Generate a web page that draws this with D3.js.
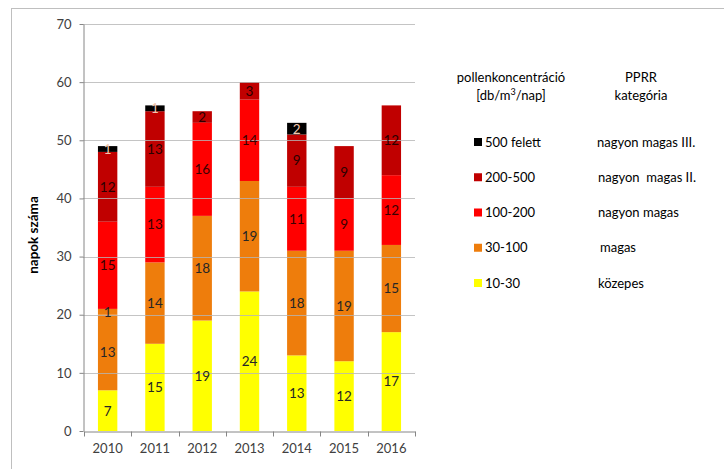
<!DOCTYPE html>
<html>
<head>
<meta charset="utf-8">
<script src="https://cdn.jsdelivr.net/npm/d3@7"></script>
<style>
  body { margin: 0; background: #fff; }
  svg { font-family: Lato, "Open Sans", sans-serif; }
</style>
</head>
<body>
<div id="chart"></div>
<script>
var years = ["2010", "2011", "2012", "2013", "2014", "2015", "2016"];
var s10_30 = [7, 15, 19, 24, 13, 12, 17];
var s30_100 = [13, 14, 18, 19, 18, 19, 15];
var s30_100b = [1, 0, 0, 0, 0, 0, 0];   // extra orange piece on 2010
var s100_200 = [15, 13, 16, 14, 11, 9, 12];
var s200_500 = [12, 13, 2, 3, 9, 9, 12];
var s500 = [1, 1, 0, 0, 2, 0, 0];
var yTicks = [0, 10, 20, 30, 40, 50, 60, 70];

var legendNames = ["500 felett", "200-500", "100-200", "30-100", "10-30"];
var legendCats = ["nagyon magas III.", "nagyon  magas II.", "nagyon magas", "magas", "közepes"];

var series = [
  {values: s10_30, color: "#FFFF00", text: "#262626"},
  {values: s30_100, color: "#EE7D0C", text: "#262626"},
  {values: s30_100b, color: "#EE7D0C", text: "#262626"},
  {values: s100_200, color: "#FF0000", text: "#3a0000"},
  {values: s200_500, color: "#C00000", text: "#2a0000"},
  {values: s500, color: "#000000", text: "#f2c8b0"}
];
var legendColors = ["#000000", "#C00000", "#FF0000", "#EE7D0C", "#FFFF00"];

var W = 724, H = 469;
var svg = d3.select("#chart").append("svg")
    .attr("width", W)
    .attr("height", H);

// outer frame
svg.append("rect")
    .attr("x", 11.5).attr("y", 8.5)
    .attr("width", 730).attr("height", 480)
    .attr("fill", "none")
    .attr("stroke", "#bfbfbf");

var x = d3.scaleBand()
    .domain(years)
    .range([84, 415])
    .paddingInner(0.59)
    .paddingOuter(0.295);

var y = d3.scaleLinear()
    .domain([0, 70])
    .range([431, 24]);

// stack the segments
years.forEach(function(yr, i) {
  var base = 0;
  series.forEach(function(s) {
    var v = s.values[i];
    if (!v) return;
    svg.append("rect")
      .attr("x", x(yr))
      .attr("y", y(base + v))
      .attr("width", x.bandwidth())
      .attr("height", y(base) - y(base + v))
      .attr("fill", s.color);
    base += v;
  });
});

// gridlines (drawn over the bars like in the original)
svg.append("g")
  .selectAll("line")
  .data(yTicks.slice(1))
  .join("line")
    .attr("x1", 83).attr("x2", 415)
    .attr("y1", function(d) { return Math.round(y(d)) + 0.5; })
    .attr("y2", function(d) { return Math.round(y(d)) + 0.5; })
    .attr("stroke", "#b5b5b5")
    .attr("stroke-opacity", 0.8);

// labels
years.forEach(function(yr, i) {
  var base = 0;
  series.forEach(function(s) {
    var v = s.values[i];
    if (!v) return;
    svg.append("text")
      .attr("x", x(yr) + x.bandwidth() / 2)
      .attr("y", y(base + v / 2))
      .attr("dy", "0.36em")
      .attr("text-anchor", "middle")
      .attr("font-size", 13.5)
      .attr("fill", s.text)
      .text(v);
    base += v;
  });
});

// y axis
var yAxis = svg.append("g")
    .attr("transform", "translate(83.5,0)")
    .call(d3.axisLeft(y).tickValues(yTicks).tickSize(4).tickPadding(8).tickSizeOuter(0));
yAxis.select(".domain").attr("stroke", "#868686");
yAxis.selectAll(".tick line").attr("stroke", "#868686");
yAxis.selectAll(".tick text")
    .attr("font-size", 13)
    .attr("font-family", "Lato, sans-serif")
    .attr("fill", "#404040");

// x axis
var xAxis = svg.append("g")
    .attr("transform", "translate(0,431.5)")
    .call(d3.axisBottom(x).tickSize(0).tickPadding(12).tickSizeOuter(0));
xAxis.select(".domain").attr("stroke", "#868686");
xAxis.selectAll(".tick text")
    .attr("font-size", 13)
    .attr("font-family", "Lato, sans-serif")
    .attr("fill", "#404040");

var step = x.step();
var bounds = years.map(function(yr) { return x(yr) - step * x.paddingInner() / 2; });
bounds.push(x.range()[1]);
xAxis.selectAll("line.bound")
  .data(bounds)
  .join("line")
    .attr("class", "bound")
    .attr("x1", function(d) { return Math.round(d) + 0.5; })
    .attr("x2", function(d) { return Math.round(d) + 0.5; })
    .attr("y1", 0).attr("y2", 5)
    .attr("stroke", "#868686");

// y title
svg.append("text")
    .attr("transform", "translate(38,235) rotate(-90)")
    .attr("text-anchor", "middle")
    .attr("font-size", 13.5)
    .attr("font-weight", "bold")
    .attr("fill", "#000")
    .text("napok száma");

// legend headers
var hdr = svg.append("g").attr("font-size", 13).attr("fill", "#000").attr("text-anchor", "middle");
hdr.append("text").attr("x", 511).attr("y", 82).text("pollenkoncentráció");
hdr.append("text").attr("x", 511).attr("y", 100).html("[db/m<tspan font-size='9' dy='-5'>3</tspan><tspan dy='5'>/nap]</tspan>");
hdr.append("text").attr("x", 641).attr("y", 82).text("PPRR");
hdr.append("text").attr("x", 641).attr("y", 100).text("kategória");

var legY = d3.scalePoint().domain(legendNames).range([142, 283]);
var leg = svg.append("g").attr("font-size", 13).attr("fill", "#000");
legendNames.forEach(function(n, i) {
  var ly = legY(n);
  leg.append("rect")
    .attr("x", 474).attr("y", ly - 4)
    .attr("width", 8).attr("height", 8)
    .attr("fill", legendColors[i]);
  leg.append("text")
    .attr("x", 485).attr("y", ly)
    .attr("dy", "0.35em")
    .text(n);
  leg.append("text")
    .attr("x", i === 3 ? 600 : (i === 0 ? 597 : 598)).attr("y", ly)
    .attr("dy", "0.35em")
    .style("white-space", "pre")
    .text(legendCats[i]);
});
</script>
</body>
</html>
